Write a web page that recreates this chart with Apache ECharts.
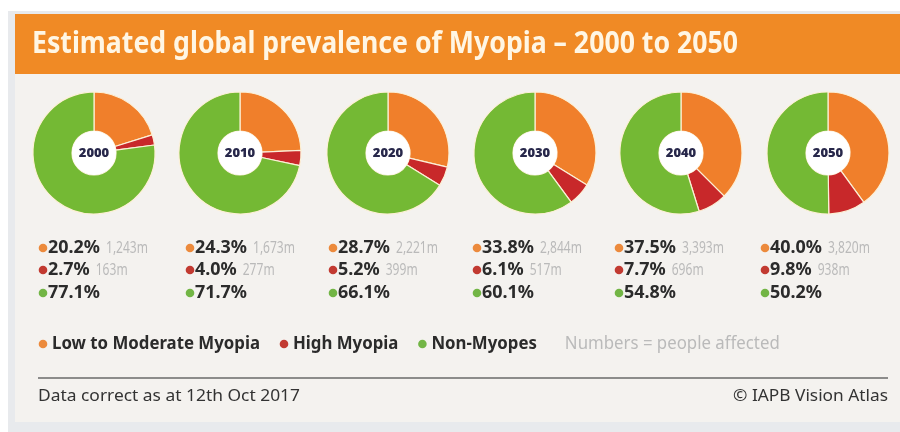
<!DOCTYPE html>
<html>
<head>
<meta charset="utf-8">
<script src="https://cdn.jsdelivr.net/npm/echarts@6/dist/echarts.min.js"></script>
<style>
  html, body { margin: 0; padding: 0; background: #ffffff; }
  #chart { width: 900px; height: 432px; }
</style>
</head>
<body>
<div id="chart"></div>
<script>
// Estimated global prevalence of myopia, share of world population (%)
const years = ['2000', '2010', '2020', '2030', '2040', '2050'];
const lowModerate = [20.2, 24.3, 28.7, 33.8, 37.5, 40.0];
const highMyopia = [2.7, 4.0, 5.2, 6.1, 7.7, 9.8];
const nonMyopes = [77.1, 71.7, 66.1, 60.1, 54.8, 50.2];
// People affected
const lowPeople = ['1,243m', '1,673m', '2,221m', '2,844m', '3,393m', '3,820m'];
const highPeople = ['163m', '277m', '399m', '517m', '696m', '938m'];
const categoryNames = ['Low to Moderate Myopia', 'High Myopia', 'Non-Myopes'];
const peopleNote = 'Numbers = people affected';

const FONT = '"Noto Sans", "Open Sans", "DejaVu Sans", sans-serif';
const COLORS = {
  header: '#f08a25',
  orange: '#f07f2b',
  red: '#c8282a',
  green: '#74b934',
  dotOrange: '#ec8a3c',
  dotRed: '#c23a31',
  dotGreen: '#72b545',
  ink: '#2b2b2b',
  grey: '#bababa'
};

// Layout
const pieX = [94, 240, 388, 535, 681, 828];
const pieY = 153;
const colX = [43, 190, 333, 477, 619, 765];
const rowY = [248, 270, 293];

const measureCtx = document.createElement('canvas').getContext('2d');
function textWidth(str, font) {
  measureCtx.font = font;
  return measureCtx.measureText(str).width;
}

function textEl(str, x, y, font, color, scale, align) {
  return {
    type: 'text', x: x, y: y, scaleX: scale || 1, silent: true, z: 10,
    style: {
      text: str, font: font, fill: color,
      textAlign: align || 'left', align: align || 'left',
      textVerticalAlign: 'middle', verticalAlign: 'middle'
    }
  };
}

// Text squeezed horizontally to a given width (fonts here are wider than the condensed face)
function fittedText(str, x, y, size, weight, color, width, align) {
  const font = weight + ' ' + size + 'px ' + FONT;
  const s = width ? width / textWidth(str, font) : 1;
  return textEl(str, x, y, font, color, s, align);
}

function dot(cx, cy, color) {
  return { type: 'circle', silent: true, z: 10, shape: { cx: cx, cy: cy, r: 4.3 }, style: { fill: color } };
}

const graphics = [];
// frame and panel
graphics.push({ type: 'rect', silent: true, z: 0, shape: { x: 8, y: 11, width: 892, height: 421 }, style: { fill: '#e8eaed' } });
graphics.push({ type: 'rect', silent: true, z: 1, shape: { x: 15, y: 14, width: 885, height: 408 }, style: { fill: '#f4f2ef' } });
// header bar
graphics.push({ type: 'rect', silent: true, z: 2, shape: { x: 15, y: 14, width: 885, height: 60 }, style: { fill: COLORS.header } });
graphics.push(fittedText('Estimated global prevalence of Myopia \u2013 2000 to 2050', 32, 44, 31, 'bold', '#fff6e4', 706));

// value labels under each ring
const pctFont = 'bold 17px ' + FONT;
const pplFont = 'normal 16px ' + FONT;
const pctScale = 52 / textWidth('20.2%', pctFont);
const pplScale = 42 / textWidth('1,243m', pplFont);

years.forEach(function (y, i) {
  const rows = [
    { color: COLORS.dotOrange, pct: lowModerate[i], ppl: lowPeople[i] },
    { color: COLORS.dotRed, pct: highMyopia[i], ppl: highPeople[i] },
    { color: COLORS.dotGreen, pct: nonMyopes[i], ppl: null }
  ];
  rows.forEach(function (r, k) {
    const yy = rowY[k];
    graphics.push(dot(colX[i], yy, r.color));
    const pctText = r.pct.toFixed(1) + '%';
    const tx = colX[i] + 5;
    graphics.push(textEl(pctText, tx, yy, pctFont, COLORS.ink, pctScale));
    if (r.ppl) {
      const px = tx + textWidth(pctText, pctFont) * pctScale + 6;
      graphics.push(textEl(r.ppl, px, yy + 0.5, pplFont, COLORS.grey, pplScale));
    }
  });
});

// legend: one shared squeeze factor for all entries
const legendY = 344;
const legendFont = 'bold 18px ' + FONT;
const legendScale = 208 / textWidth(categoryNames[0], legendFont);
const legendDots = [COLORS.dotOrange, COLORS.dotRed, COLORS.dotGreen];
let lx = 43;
categoryNames.forEach(function (name, k) {
  graphics.push(dot(lx, legendY, legendDots[k]));
  graphics.push(textEl(name, lx + 9, legendY, legendFont, COLORS.ink, legendScale));
  lx += 9 + textWidth(name, legendFont) * legendScale + 24;
});
const noteFont = 'normal 18px ' + FONT;
graphics.push(textEl(peopleNote, lx + 4, legendY, noteFont, COLORS.grey, legendScale));

// divider and footer
graphics.push({ type: 'line', silent: true, z: 10, shape: { x1: 38, y1: 378, x2: 888, y2: 378 }, style: { stroke: '#6a6a6a', lineWidth: 1.5 } });
graphics.push(fittedText('Data correct as at 12th Oct 2017', 38, 396, 17, 'normal', '#333333', 262));
graphics.push(fittedText('\u00a9 IAPB Vision Atlas', 888, 396, 17, 'normal', '#333333', 155, 'right'));

// rings
const series = [];
years.forEach(function (y, i) {
  series.push({
    type: 'pie',
    center: [pieX[i], pieY],
    radius: [22, 61],
    startAngle: 90,
    clockwise: true,
    silent: true,
    animation: false,
    z: 5,
    label: { show: false },
    labelLine: { show: false },
    itemStyle: { borderColor: '#fcf0d6', borderWidth: 1.2 },
    data: [
      { name: categoryNames[0], value: lowModerate[i], itemStyle: { color: COLORS.orange } },
      { name: categoryNames[1], value: highMyopia[i], itemStyle: { color: COLORS.red } },
      { name: categoryNames[2], value: nonMyopes[i], itemStyle: { color: COLORS.green } }
    ]
  });
  // white hub carrying the year
  series.push({
    type: 'pie',
    center: [pieX[i], pieY],
    radius: [0, 22],
    silent: true,
    animation: false,
    z: 5,
    label: {
      show: true, position: 'center', formatter: '{b}',
      fontFamily: FONT, fontSize: 13, fontWeight: 900, color: '#27274a'
    },
    labelLine: { show: false },
    itemStyle: { color: '#ffffff' },
    data: [{ name: y, value: 1 }]
  });
});

const chart = echarts.init(document.getElementById('chart'), null, { renderer: 'canvas' });
chart.setOption({
  backgroundColor: '#ffffff',
  animation: false,
  graphic: { elements: graphics },
  series: series
});
</script>
</body>
</html>
